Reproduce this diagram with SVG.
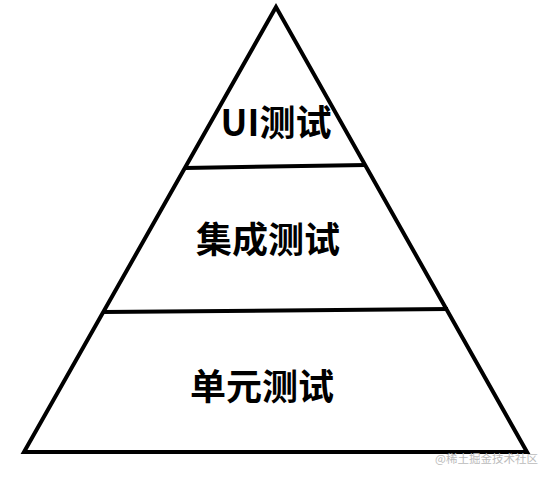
<svg xmlns="http://www.w3.org/2000/svg" width="553" height="478" viewBox="0 0 553 478">
<style>
.ln{stroke:#000;stroke-width:4;fill:none;stroke-linejoin:miter;stroke-linecap:butt}
.lbl{font-family:"Noto Sans CJK SC","Microsoft YaHei",sans-serif;font-weight:bold;font-size:36px;fill:#000;text-anchor:middle}
.wm{font-family:"Noto Sans CJK SC",sans-serif;font-size:11.5px;fill:#bbbbbb}
</style>
<rect width="553" height="478" fill="#fff"/>
<g id="connectors">
<polygon class="ln" points="276,7 24,452 527,452"/>
<line class="ln" x1="185" y1="168" x2="366" y2="165"/>
<line class="ln" x1="103" y1="312" x2="448" y2="309"/>
</g>
<g id="ui"><text class="lbl" x="276" y="136">UI测试</text></g>
<g id="integration"><text class="lbl" x="268" y="253">集成测试</text></g>
<g id="unit"><text class="lbl" x="262" y="400">单元测试</text></g>
<text class="wm" x="435" y="463">@稀土掘金技术社区</text>
</svg>
